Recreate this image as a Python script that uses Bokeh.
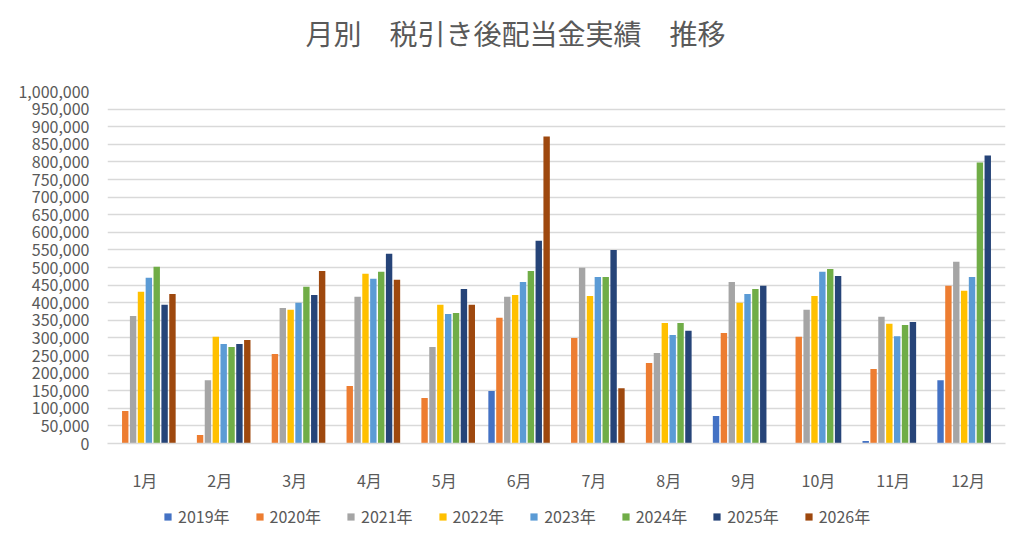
import numpy as np
from bokeh.plotting import figure
from bokeh.layouts import column
from bokeh.models import (ColumnDataSource, FixedTicker, NumeralTickFormatter,
                          Legend, LegendItem, Range1d, Label)
from bokeh.transform import dodge
from bokeh.core.properties import value
from bokeh.embed import file_html
from bokeh.resources import INLINE

# ---------------- data ----------------
months = ["1月", "2月", "3月", "4月", "5月", "6月", "7月", "8月", "9月", "10月", "11月", "12月"]
years = ["2019年", "2020年", "2021年", "2022年", "2023年", "2024年", "2025年", "2026年"]

v2019 = [None, None, None, None, None, 149000, None, None, 78000, None, 7000, 180000]
v2020 = [92000, 24000, 254000, 163000, 129000, 357000, 300000, 229000, 314000, 303000, 212000, 448000]
v2021 = [362000, 180000, 385000, 417000, 274000, 417000, 499000, 257000, 459000, 380000, 360000, 516000]
v2022 = [431000, 303000, 380000, 482000, 394000, 422000, 419000, 342000, 400000, 419000, 340000, 434000]
v2023 = [471000, 283000, 400000, 468000, 368000, 459000, 473000, 308000, 425000, 488000, 305000, 473000]
v2024 = [502000, 274000, 445000, 488000, 371000, 490000, 473000, 342000, 439000, 496000, 337000, 798000]
v2025 = [394000, 283000, 422000, 539000, 439000, 576000, 550000, 320000, 448000, 476000, 345000, 818000]
v2026 = [425000, 294000, 490000, 465000, 394000, 872000, 157000, None, None, None, None, None]

series = [v2019, v2020, v2021, v2022, v2023, v2024, v2025, v2026]
colors = ["#4472C4", "#ED7D31", "#A5A5A5", "#FFC000", "#5B9BD5", "#70AD47", "#264478", "#9E480E"]

y_ticks = list(range(0, 1000001, 50000))
title_text = "月別\u3000税引き後配当金実績\u3000推移"

# ---------------- layout constants (page px) ----------------
FONT = "Noto Sans CJK JP"
TXT = "#595959"
GRID = "#D9D9D9"
W = 1013
TITLE_H = 60          # title strip: page y 0..60
MAIN_BOTTOM = 495     # main chart: page y 60..495
LEG_H = 46            # legend strip: page y 495..541
FL, FR, FT, FB = 107, 1005, 91, 443   # plot frame edges in page px
frame_w = FR - FL


def col(v):
    return np.array([np.nan if a is None else a for a in v], dtype=float)


def strip(h):
    f = figure(width=W, height=h, output_backend="svg", toolbar_location=None,
               x_range=Range1d(FL, FR), y_range=Range1d(h, 0),
               x_axis_type=None, y_axis_type=None,
               min_border_left=FL, min_border_right=W - FR,
               min_border_top=0, min_border_bottom=0)
    f.outline_line_color = None
    f.xgrid.visible = False
    f.ygrid.visible = False
    f.background_fill_color = "white"
    f.border_fill_color = "white"
    return f


# ---------------- title strip ----------------
pt = strip(TITLE_H)
pt.add_layout(Label(x=515, y=32, text=title_text, text_align="center",
                    text_baseline="middle", text_font_size="28px",
                    text_color=TXT, text_font=FONT))

# ---------------- main chart ----------------
data = {"x": list(range(len(months)))}
for y, v in zip(years, series):
    data[y] = col(v)
src = ColumnDataSource(data)

main_h = MAIN_BOTTOM - TITLE_H
p = figure(width=W, height=main_h, output_backend="svg", toolbar_location=None,
           x_range=Range1d(-0.5, len(months) - 0.5), y_range=Range1d(0, 1000000),
           min_border_left=FL, min_border_right=W - FR,
           min_border_top=FT - TITLE_H, min_border_bottom=MAIN_BOTTOM - FB)
p.outline_line_color = None
p.background_fill_color = "white"
p.border_fill_color = "white"

px_per_cat = frame_w / len(months)
step = 7.87 / px_per_cat
bw = 6.4 / px_per_cat

for i, (y, c) in enumerate(zip(years, colors)):
    off = (i - (len(years) - 1) / 2) * step
    p.vbar(x=dodge("x", off, range=p.x_range), top=y, width=bw, bottom=0,
           source=src, fill_color=c, line_color=None)

p.xaxis.ticker = FixedTicker(ticks=list(range(len(months))))
p.xaxis.major_label_overrides = {i: m for i, m in enumerate(months)}
p.xaxis.axis_line_color = GRID
p.xaxis.axis_line_width = 1.5
p.xaxis.major_tick_line_color = None
p.xaxis.minor_tick_line_color = None
p.xaxis.major_label_standoff = 18
p.xaxis.major_label_text_font_size = "16px"
p.xaxis.major_label_text_color = TXT
p.xaxis.major_label_text_font = FONT

p.yaxis.ticker = FixedTicker(ticks=y_ticks)
p.yaxis.formatter = NumeralTickFormatter(format="0,0")
p.yaxis.axis_line_color = None
p.yaxis.major_tick_line_color = None
p.yaxis.minor_tick_line_color = None
p.yaxis.major_label_standoff = 12
p.yaxis.major_label_text_font_size = "16px"
p.yaxis.major_label_text_color = TXT
p.yaxis.major_label_text_font = FONT

p.xgrid.grid_line_color = None
p.ygrid.grid_line_color = GRID
p.ygrid.grid_line_width = 1.5

# ---------------- legend strip ----------------
pl = strip(LEG_H)
items = []
for y, c in zip(years, colors):
    key_src = ColumnDataSource({"x": [np.nan], "top": [np.nan]})
    r = pl.vbar(x="x", top="top", width=1, source=key_src, fill_color=c, line_color=None)
    items.append(LegendItem(label=value(y), renderers=[r]))
legend = Legend(items=items, orientation="horizontal", location=(163 - FL, 13),
                glyph_width=9, glyph_height=9, label_standoff=6, spacing=25,
                padding=0, margin=0, border_line_color=None, background_fill_alpha=0,
                label_text_font_size="16px", label_text_color=TXT, label_text_font=FONT)
pl.add_layout(legend, "center")

layout = column(pt, p, pl, spacing=0)
open("out.html", "w").write(file_html(layout, INLINE))
